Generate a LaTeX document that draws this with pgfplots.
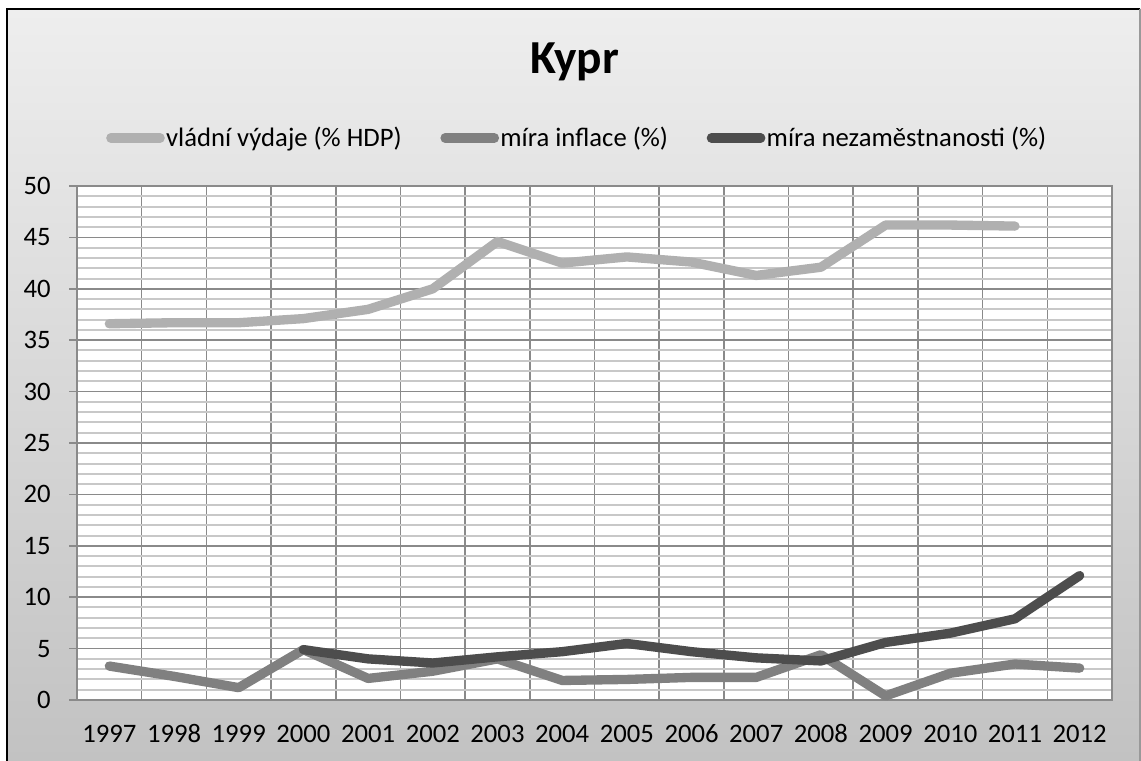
\documentclass[border=0pt]{standalone}
\usepackage{pgfplots}
\pgfplotsset{compat=1.18}
\usepackage{pgfplotstable}
\usepackage{fontspec}
\setmainfont{Carlito}
\definecolor{cGov}{HTML}{B0B0B0}
\definecolor{cInf}{HTML}{808080}
\definecolor{cUne}{HTML}{4D4D4D}
\definecolor{cGrid}{HTML}{8A8A8A}
\definecolor{cMinor}{HTML}{C8C8C8}
\definecolor{bgTop}{HTML}{EEEEEE}
\definecolor{bgBot}{HTML}{C2C2C2}

\pgfplotstableread{
x gov
0 36.6
1 36.7
2 36.7
3 37.1
4 38.0
5 40.0
6 44.6
7 42.5
8 43.1
9 42.6
10 41.3
11 42.1
12 46.2
13 46.2
14 46.1
}\govdata

\pgfplotstableread{
x inf
0 3.3
1 2.3
2 1.2
3 4.9
4 2.1
5 2.8
6 4.0
7 1.9
8 2.0
9 2.2
10 2.2
11 4.4
12 0.4
13 2.6
14 3.5
15 3.1
}\infdata

\pgfplotstableread{
x une
3 4.9
4 4.0
5 3.6
6 4.2
7 4.7
8 5.5
9 4.7
10 4.1
11 3.8
12 5.6
13 6.5
14 7.9
15 12.1
}\unedata

\begin{document}
\begin{tikzpicture}
\shade[top color=bgTop, bottom color=bgBot] (5.25pt,0pt) rectangle (855.75pt,563.25pt);
\draw[black, line width=1.4pt] (5.25pt,-2pt) -- (5.25pt,563.25pt) -- (855pt,563.25pt);
\draw[gray!80, line width=1pt] (855pt,563.25pt) -- (855pt,-2pt);
\begin{axis}[
  at={(57.75pt,45pt)}, anchor=south west,
  scale only axis, width=776.25pt, height=385.5pt,
  xmin=-0.5, xmax=15.5, ymin=0, ymax=50,
  /pgf/number format/assume math mode=true,
  xtick={-0.5,0.5,...,15.5}, xticklabels={},
  extra x ticks={0,1,...,15},
  extra x tick labels={1997,1998,1999,2000,2001,2002,2003,2004,2005,2006,2007,2008,2009,2010,2011,2012},
  extra x tick style={grid=none, major tick length=0pt,
     xticklabel style={anchor=base, yshift=-31.5pt, inner sep=0pt}},
  xtick style={draw=none},
  ytick={0,5,...,50},
  minor y tick num=4,
  ytick align=outside, ytick pos=left,
  ytick style={cGrid, line width=1.2pt},
  major tick length=6pt, minor tick length=0pt,
  yticklabel style={anchor=east, inner sep=0pt, xshift=-13.5pt},
  tick label style={font=\fontsize{20pt}{24pt}\selectfont},
  xmajorgrids, ymajorgrids, yminorgrids,
  major grid style={cGrid, line width=1.2pt},
  minor grid style={cMinor, line width=1.5pt},
  axis line style={cGrid, line width=1.2pt},
  axis background/.style={fill=white},
  clip=false,
  legend columns=3,
  legend style={at={(0.483,1.0934)}, anchor=center, draw=none, fill=none,
     font=\fontsize{20pt}{24pt}\selectfont, inner sep=0pt,
     /tikz/every even column/.append style={column sep=28pt},
     nodes={inner sep=1pt}},
  legend image code/.code={\draw[line width=7pt, line cap=round] (3pt,0pt) -- (40pt,0pt);},
  title={\bfseries Kypr},
  title style={font=\fontsize{35.5pt}{42pt}\selectfont, at={(0.481,1.2024)}, anchor=base},
  every axis plot/.append style={line width=7pt, line join=round, line cap=round, no markers},
]
\addplot[cGov] table[x=x,y=gov] {\govdata};
\addlegendentry{vládní výdaje (\% HDP)}
\addplot[cInf] table[x=x,y=inf] {\infdata};
\addlegendentry{míra inflace (\%)}
\addplot[cUne] table[x=x,y=une] {\unedata};
\addlegendentry{míra nezaměstnanosti (\%)}
\end{axis}
\pgfresetboundingbox
\path (0pt,0pt) rectangle (855.75pt,570pt);
\end{tikzpicture}
\end{document}
